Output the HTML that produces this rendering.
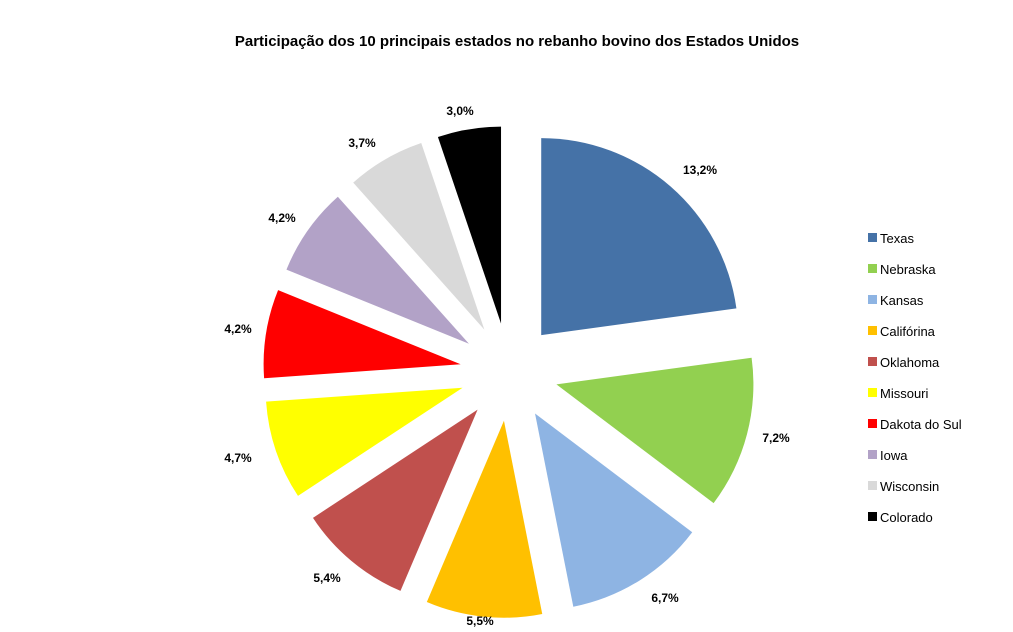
<!DOCTYPE html>
<html><head><meta charset="utf-8"><style>
html,body{margin:0;padding:0;background:#fff;}
svg{display:block;font-family:"Liberation Sans",sans-serif;}
</style></head><body>
<svg id="s" width="1013" height="632" viewBox="0 0 1013 632" xmlns="http://www.w3.org/2000/svg">
<text x="517" y="46" text-anchor="middle" font-size="15" font-weight="bold" fill="#000">Participação dos 10 principais estados no rebanho bovino dos Estados Unidos</text>
<g id="pie"></g>
<g font-size="12" font-weight="bold" fill="#000" text-anchor="middle">
<text x="700" y="174">13,2%</text>
<text x="776" y="442">7,2%</text>
<text x="665" y="602">6,7%</text>
<text x="480" y="625">5,5%</text>
<text x="327" y="582">5,4%</text>
<text x="238" y="462">4,7%</text>
<text x="238" y="333">4,2%</text>
<text x="282" y="222">4,2%</text>
<text x="362" y="147">3,7%</text>
<text x="460" y="115">3,0%</text>
</g>
<g id="leg" font-size="13" fill="#000"></g>
</svg>
<script>
var v=[13.2,7.2,6.7,5.5,5.4,4.7,4.2,4.2,3.7,3.0];
var c=["#4572A7","#92D050","#8EB4E3","#FFC000","#C0504D","#FFFF00","#FF0000","#B2A2C7","#D9D9D9","#000000"];
var n=["Texas","Nebraska","Kansas","Califórina","Oklahoma","Missouri","Dakota do Sul","Iowa","Wisconsin","Colorado"];
var tot=v.reduce(function(a,b){return a+b},0);
var cx=509,cy=372,r=197,d=49,a=0,pie=document.getElementById('pie'),leg=document.getElementById('leg');
var NS="http://www.w3.org/2000/svg";
function pt(x,y,ang,rr){return [x+rr*Math.sin(ang),y-rr*Math.cos(ang)];}
for(var i=0;i<v.length;i++){
 var s=v[i]/tot*2*Math.PI,a0=a,a1=a+s,m=a+s/2;a=a1;
 var ox=cx+d*Math.sin(m),oy=cy-d*Math.cos(m);
 var p0=pt(ox,oy,a0,r),p1=pt(ox,oy,a1,r);
 var p=document.createElementNS(NS,'path');
 p.setAttribute('d','M'+ox+','+oy+'L'+p0[0]+','+p0[1]+'A'+r+','+r+' 0 '+(s>Math.PI?1:0)+' 1 '+p1[0]+','+p1[1]+'Z');
 p.setAttribute('fill',c[i]);pie.appendChild(p);
 var y=238+i*31;
 var rc=document.createElementNS(NS,'rect');
 rc.setAttribute('x',868);rc.setAttribute('y',y-5);rc.setAttribute('width',9);rc.setAttribute('height',9);rc.setAttribute('fill',c[i]);leg.appendChild(rc);
 var t=document.createElementNS(NS,'text');
 t.setAttribute('x',880);t.setAttribute('y',y+5);t.textContent=n[i];leg.appendChild(t);
}
</script>
</body></html>
